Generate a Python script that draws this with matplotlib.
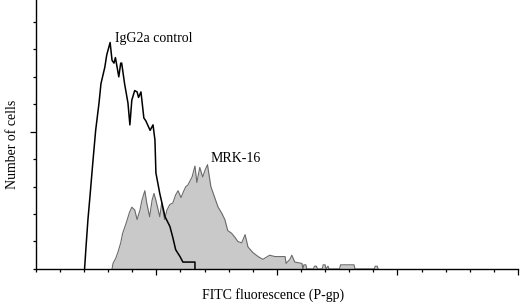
import numpy as np
import matplotlib
matplotlib.use("Agg")
import matplotlib.pyplot as plt

plt.rcParams['font.family'] = ['Liberation Serif', 'DejaVu Serif']

# Control histogram (IgG2a), channel vs. cell count
ctrl_x = [101, 104, 108, 112, 118, 124, 131, 135, 143, 147, 154, 158, 162, 165,
          172, 176, 178, 184, 191, 195, 199, 205, 210, 213, 218, 224, 228, 237,
          243, 247, 249, 257, 268, 278, 284, 290, 299, 305, 330, 330]
ctrl_y = [0, 16, 36, 52, 77, 101, 121, 135, 147, 156, 165, 152, 150, 154,
          140, 150, 150, 135, 121, 105, 123, 130, 129, 125, 129, 110, 108, 101,
          105, 94, 70, 55, 38, 31, 23, 14, 9, 5, 5, 0]

# MRK-16 histogram
mrk_x = [158, 160, 166, 170, 176, 180, 187, 194, 199, 205, 210, 216, 220, 226,
         230, 236, 241, 245, 249, 257, 261, 267, 272, 278, 284, 290, 295, 301,
         307, 311, 315, 324, 330, 334, 340, 346, 351, 356, 363, 371, 378, 385,
         392, 398, 406, 413, 419, 427, 434, 440, 450, 461, 471, 485, 496, 517,
         519, 527, 531, 537, 552, 554, 556, 560, 562, 576, 578, 582, 584, 594,
         596, 600, 602, 606, 608, 630, 632, 660, 662, 702, 704, 708, 710]
mrk_y = [0, 4, 8, 12, 19, 26, 33, 41, 45, 43, 36, 43, 50, 57,
         48, 38, 50, 55, 50, 38, 48, 36, 43, 47, 48, 54, 57, 52,
         57, 60, 61, 67, 75, 63, 74, 67, 72, 76, 60, 52, 45, 41,
         36, 28, 26, 23, 20, 19, 25, 16, 12, 9, 7, 10, 9, 9,
         4, 7, 10, 5, 4, 0, 3, 3, 0, 0, 2, 2, 0, 0,
         3, 3, 0, 2, 0, 0, 3, 3, 0, 0, 2, 2, 0]

fig = plt.figure(figsize=(5.2, 3.07), dpi=100)
ax = fig.add_axes([0.069, 0.124, 0.927, 0.876])

ax.fill_between(mrk_x, mrk_y, color='#c9c9c9', lw=0)
ax.plot(mrk_x, mrk_y, color='#6a6a6a', lw=0.8)
ax.plot(ctrl_x, ctrl_y, color='black', lw=1.1)

ax.set_xlim(0, 1000)
ax.set_ylim(0, 196)

for s in ['top', 'right']:
    ax.spines[s].set_visible(False)
for s in ['left', 'bottom']:
    ax.spines[s].set_linewidth(1.0)

ax.set_xticks([250, 500, 750, 1000])
ax.set_xticks(np.arange(0, 1001, 50), minor=True)
ax.set_yticks([100])
ax.set_yticks(np.arange(0, 181, 20), minor=True)
ax.tick_params(which='major', direction='out', length=4, width=0.9, labelbottom=False, labelleft=False)
ax.tick_params(which='minor', direction='out', length=2, width=0.9)

ax.text(164, 163, 'IgG2a control', fontsize=10, ha='left', va='bottom')
ax.text(362, 76, 'MRK-16', fontsize=10, ha='left', va='bottom')

fig.text(0.025, 0.53, 'Number of cells', rotation=90, fontsize=10, ha='center', va='center')
fig.text(0.525, 0.04, 'FITC fluorescence (P-gp)', fontsize=10, ha='center', va='center')

fig.savefig('out.png', dpi=100)
